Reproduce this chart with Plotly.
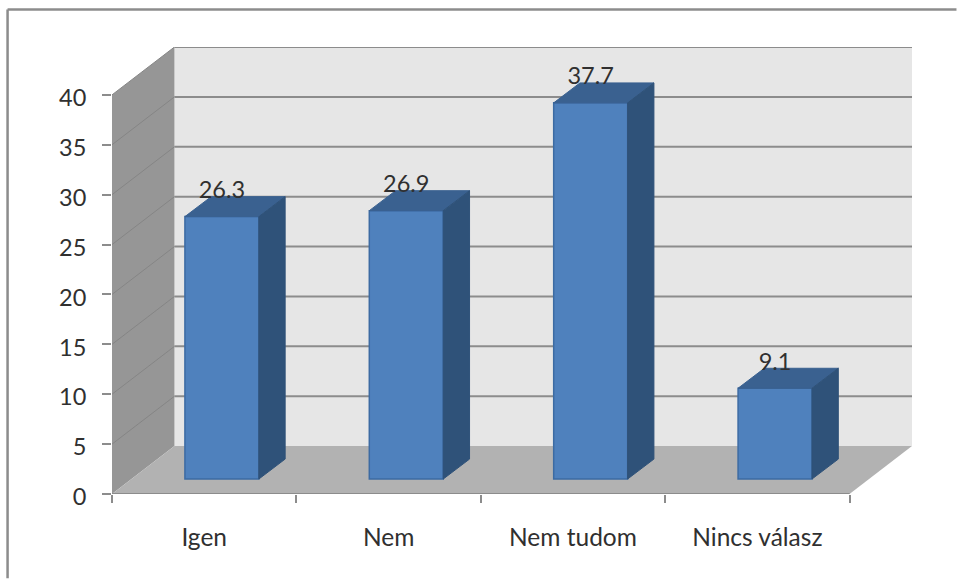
import plotly.graph_objects as go

categories = ["Igen", "Nem", "Nem tudom", "Nincs válasz"]
values = [26.3, 26.9, 37.7, 9.1]
y_ticks = [0, 5, 10, 15, 20, 25, 30, 35, 40]

# pixel geometry of the drawing box
W, H = 957, 579
PX_PER_CAT = 184.5
PX_PER_UNIT = 10.0
L, T, B = 112, 46.5, 494.5
R = L + PX_PER_CAT * len(categories) + 62.5
DX = (R - L) / PX_PER_CAT - len(categories)   # depth of the floor in category units
DY = (B - T) / PX_PER_UNIT - y_ticks[-1]      # depth of the floor in value units

BAR_W = 74 / PX_PER_CAT
BAR_SHIFT = 0.096
BAR_BASE = 1.5
BAR_DX = 26.3 / PX_PER_CAT
BAR_DY = 2.0
LABEL_GAP = 2.45

GRID = "#8c8c8c"
FONT = "Lato, Carlito, sans-serif"
TEXT = "#303030"

n = len(categories)
ymax = y_ticks[-1]


def poly(xs, ys, fill):
    path = "M " + " L ".join(f"{x},{y}" for x, y in zip(xs, ys)) + " Z"
    return dict(type="path", path=path, xref="x", yref="y", fillcolor=fill,
                line=dict(width=0), layer="below")


def line(x0, y0, x1, y1, color=GRID, width=2):
    return dict(type="line", x0=x0, y0=y0, x1=x1, y1=y1, xref="x", yref="y",
                line=dict(color=color, width=width), layer="below")


shapes = [
    poly([DX, n + DX, n + DX, DX], [DY, DY, ymax + DY, ymax + DY], "#e6e6e6"),
    poly([0, DX, DX, 0], [0, DY, ymax + DY, ymax], "#969696"),
    poly([0, n, n + DX, DX], [0, 0, DY, DY], "#b2b2b2"),
]
for t in y_ticks[1:]:
    shapes.append(line(DX, t + DY, n + DX, t + DY))
    shapes.append(line(0, t, DX, t + DY, color="#858585", width=1))
shapes.append(line(0, 0, n, 0))
shapes.append(dict(type="line", xref="paper", yref="paper",
                   x0=(7.5 - L) / (R - L), x1=(7.5 - L) / (R - L),
                   y0=(B - 9) / (B - T), y1=(B - H) / (B - T),
                   line=dict(color=GRID, width=2.5)))
shapes.append(dict(type="line", xref="paper", yref="paper",
                   x0=(7.5 - L) / (R - L), x1=(W - L) / (R - L),
                   y0=(B - 9) / (B - T), y1=(B - 9) / (B - T),
                   line=dict(color=GRID, width=2.5)))

centers = [i + 0.5 + BAR_SHIFT for i in range(n)]

fig = go.Figure()
fig.add_trace(go.Bar(x=centers, y=values, base=[BAR_BASE] * n, width=BAR_W,
                     marker=dict(color="#4f81bd", line=dict(color="#3c6ba3", width=1.5))))

for c, v in zip(centers, values):
    xl, xr = c - BAR_W / 2, c + BAR_W / 2
    top = BAR_BASE + v
    fig.add_trace(go.Scatter(
        x=[xl, xr, xr + BAR_DX, xl + BAR_DX, xl],
        y=[top, top, top + BAR_DY, top + BAR_DY, top],
        mode="lines", fill="toself", fillcolor="#3a6190",
        line=dict(color="#3a6190", width=1)))
    fig.add_trace(go.Scatter(
        x=[xr, xr + BAR_DX, xr + BAR_DX, xr, xr],
        y=[BAR_BASE, BAR_BASE + BAR_DY, top + BAR_DY, top, BAR_BASE],
        mode="lines", fill="toself", fillcolor="#2f5279",
        line=dict(color="#2f5279", width=1)))

fig.add_trace(go.Scatter(
    x=centers, y=[BAR_BASE + v + LABEL_GAP for v in values],
    mode="text", text=[str(v) for v in values], textposition="middle center",
    textfont=dict(family=FONT, size=23.5, color=TEXT)))

fig.update_layout(
    width=W, height=H, autosize=False, showlegend=False, hovermode=False,
    paper_bgcolor="white", plot_bgcolor="white",
    margin=dict(l=L, r=W - R, t=T, b=H - B, pad=0),
    shapes=shapes,
    xaxis=dict(range=[0, n + DX], showgrid=False, zeroline=False, showline=False,
               tickmode="array", tickvals=[i + 0.5 for i in range(n)], ticktext=categories,
               ticks="", ticklabelstandoff=26,
               tickfont=dict(family=FONT, size=24.5, color=TEXT),
               minor=dict(tickmode="array", tickvals=list(range(n + 1)), ticks="outside",
                          ticklen=8, tickwidth=2, tickcolor=GRID, showgrid=False)),
    yaxis=dict(range=[0, ymax + DY], showgrid=False, zeroline=False, showline=False,
               tickmode="array", tickvals=y_ticks, ticks="outside", ticklen=9, tickwidth=2,
               tickcolor=GRID, ticklabelstandoff=11, ticklabelshift=3,
               tickfont=dict(family=FONT, size=23.5, color=TEXT)),
)

fig.write_html("out.html", config={"displayModeBar": False},
               post_script="document.body.style.margin='0';")
